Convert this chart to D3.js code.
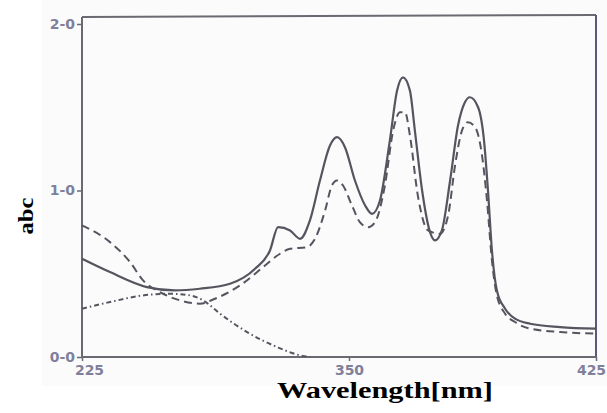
<!DOCTYPE html>
<html>
<head>
<meta charset="utf-8">
<script src="https://cdn.jsdelivr.net/npm/d3@7"></script>
<style>
  html, body { margin: 0; padding: 0; background: #ffffff; }
  svg { display: block; }
</style>
</head>
<body>
<div id="chart"></div>
<script>
// values (wavelength nm, absorbance)
const solidWl = [225, 238.1, 255.4, 268.5, 280.2, 294.3, 306.0, 313.0, 316.8, 322.4, 327.1, 331.7, 336.4, 341.1, 344.4, 348.1, 351.8, 354.9, 357.0, 359.4, 362.4, 364.6, 366.4, 368.5, 370.0, 372.2, 374.6, 376.1, 378.2, 380.7, 383.1, 385.2, 386.7, 389.2, 391.0, 392.2, 393.4, 394.9, 397.4, 400.4, 405.0, 414.1, 425];
const solidAbs = [0.59, 0.51, 0.42, 0.40, 0.41, 0.44, 0.53, 0.64, 0.78, 0.76, 0.71, 0.82, 1.06, 1.27, 1.32, 1.26, 1.06, 0.91, 0.86, 0.94, 1.30, 1.60, 1.68, 1.60, 1.36, 1.00, 0.75, 0.70, 0.76, 1.06, 1.39, 1.53, 1.56, 1.50, 1.30, 1.00, 0.64, 0.40, 0.29, 0.23, 0.20, 0.18, 0.17];

const dashedWl = [225, 238.1, 247.5, 253.6, 261.5, 270.9, 280.2, 287.3, 299.0, 310.7, 317.7, 322.4, 330.3, 334.1, 338.8, 342.0, 344.4, 347.2, 350.9, 353.3, 355.8, 357.9, 360.9, 363.4, 365.5, 367.0, 368.5, 370.9, 374.0, 377.6, 380.1, 382.2, 384.3, 386.1, 388.3, 390.4, 391.9, 393.4, 394.9, 397.4, 400.4, 405.0, 414.1, 425];
const dashedAbs = [0.79, 0.69, 0.57, 0.46, 0.39, 0.34, 0.32, 0.35, 0.43, 0.55, 0.62, 0.65, 0.66, 0.71, 0.88, 1.03, 1.06, 1.03, 0.91, 0.81, 0.78, 0.81, 1.03, 1.36, 1.47, 1.47, 1.33, 0.97, 0.76, 0.74, 0.85, 1.15, 1.36, 1.41, 1.38, 1.21, 0.94, 0.58, 0.37, 0.26, 0.21, 0.17, 0.15, 0.14];

const dotWl = [225, 238.1, 253.6, 266.2, 275.6, 281.7, 289.6, 302.3, 316.3, 327.1, 331.7];
const dotAbs = [0.29, 0.33, 0.37, 0.38, 0.37, 0.34, 0.26, 0.15, 0.06, 0.01, 0.0];

const xTicks = [225, 350, 425];
const yTicks = [0, 1, 2];

const width = 607;
const height = 413;
const ink = "#55555f";
const frame = "#6a6a72";
const tickInk = "#80809a";

const svg = d3.select("#chart").append("svg")
  .attr("width", width)
  .attr("height", height);

// scanned page area
svg.append("rect")
  .attr("x", 42).attr("y", 0)
  .attr("width", width - 42).attr("height", 386)
  .attr("fill", "#fbfbfc");

// the printed axis is not evenly scaled, so use a piecewise scale
const x = d3.scaleLinear().domain([225, 350, 425]).range([82, 349, 596]);
const y = d3.scaleLinear().domain([0, 2]).range([357, 24]);

// frame
svg.append("line").attr("x1", 82).attr("x2", 596).attr("y1", 17).attr("y2", 15)
  .attr("stroke", frame).attr("stroke-width", 2);
svg.append("line").attr("x1", 596).attr("x2", 596).attr("y1", 15).attr("y2", 357)
  .attr("stroke", "#5a5a78").attr("stroke-width", 2);

const yAxis = svg.append("g")
  .attr("transform", "translate(82,0)")
  .call(d3.axisLeft(y).tickValues(yTicks).tickSize(5).tickFormat(d => `${d}-0`));
yAxis.select(".domain").attr("d", "M0,17V357").attr("stroke", frame).attr("stroke-width", 2);
yAxis.selectAll(".tick line").attr("stroke", frame).attr("stroke-width", 1.5);
yAxis.selectAll(".tick text")
  .attr("x", -7)
  .attr("fill", tickInk)
  .attr("font-family", "DejaVu Sans, sans-serif")
  .attr("font-size", 14)
  .attr("font-weight", 700);

const xAxis = svg.append("g")
  .attr("transform", "translate(0,357)")
  .call(d3.axisBottom(x).tickValues(xTicks).tickSize(4).tickFormat(d3.format("d")));
xAxis.select(".domain").attr("d", "M82,0H596").attr("stroke", frame).attr("stroke-width", 2);
xAxis.selectAll(".tick line").attr("stroke", frame).attr("stroke-width", 1.5);
xAxis.selectAll(".tick text")
  .attr("y", 8)
  .attr("dx", (d, i) => [7, 0, -5][i])
  .attr("fill", tickInk)
  .attr("font-family", "DejaVu Sans, sans-serif")
  .attr("font-size", 14)
  .attr("font-weight", 700);

const line = d3.line()
  .x(d => x(d[0]))
  .y(d => y(d[1]))
  .curve(d3.curveMonotoneX);

const series = [
  { wl: solidWl, abs: solidAbs, dash: null, w: 2.2 },
  { wl: dashedWl, abs: dashedAbs, dash: "8 5", w: 2 },
  { wl: dotWl, abs: dotAbs, dash: "5 3 1.5 3", w: 2 }
];

series.forEach(s => {
  svg.append("path")
    .datum(d3.zip(s.wl, s.abs))
    .attr("d", line)
    .attr("fill", "none")
    .attr("stroke", ink)
    .attr("stroke-width", s.w)
    .attr("stroke-linejoin", "round")
    .attr("stroke-dasharray", s.dash);
});

// axis titles
svg.append("text")
  .attr("transform", "translate(33,216) rotate(-90)")
  .attr("text-anchor", "middle")
  .attr("font-family", "Liberation Serif, serif")
  .attr("font-weight", 700)
  .attr("font-size", 22)
  .attr("textLength", 37)
  .attr("lengthAdjust", "spacingAndGlyphs")
  .attr("fill", "#000")
  .text("abc");

svg.append("text")
  .attr("x", 385)
  .attr("y", 398)
  .attr("text-anchor", "middle")
  .attr("font-family", "Liberation Serif, serif")
  .attr("font-weight", 700)
  .attr("font-size", 24)
  .attr("textLength", 216)
  .attr("lengthAdjust", "spacingAndGlyphs")
  .attr("fill", "#000")
  .text("Wavelength[nm]");
</script>
</body>
</html>
